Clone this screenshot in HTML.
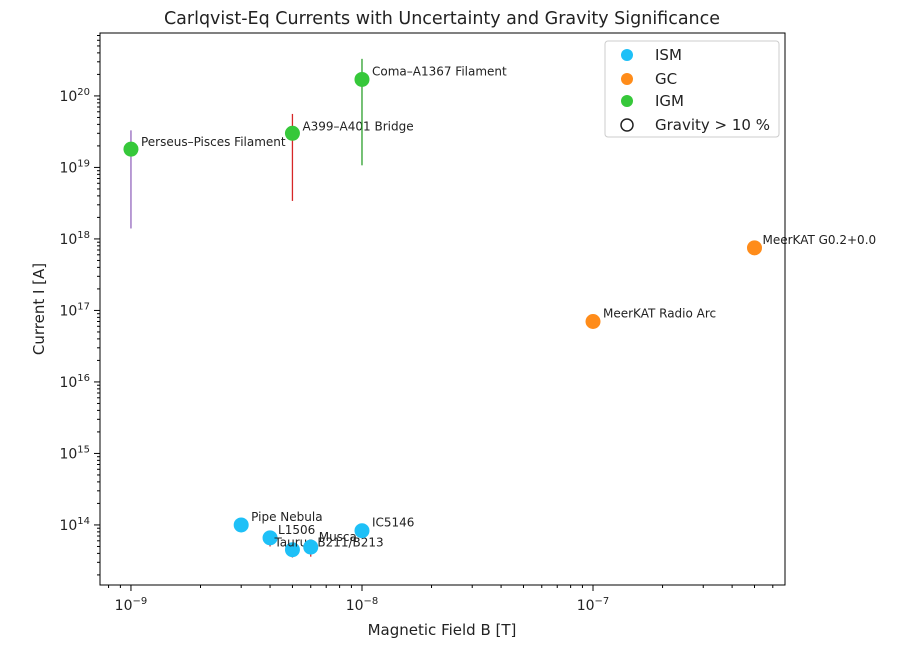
<!DOCTYPE html>
<html><head><meta charset="utf-8"><style>
body{margin:0;background:#fff;font-family:"Liberation Sans","DejaVu Sans",sans-serif}
svg text{font-family:"DejaVu Sans","Liberation Sans",sans-serif;fill:#222}
</style></head><body>
<svg id="chart" width="906" height="650" xmlns="http://www.w3.org/2000/svg">
<text x="442" y="24" text-anchor="middle" font-size="17.5">Carlqvist-Eq Currents with Uncertainty and Gravity Significance</text>
<g id="grid"></g>
<g id="marks"></g>
<rect x="100" y="33" width="685" height="552" fill="none" stroke="#000" stroke-width="1"/>
<text x="442" y="635" text-anchor="middle" font-size="15">Magnetic Field B [T]</text>
<text transform="translate(44,309) rotate(-90)" text-anchor="middle" font-size="15">Current I [A]</text>
<g>
<rect x="605" y="41" width="174" height="96" rx="3" fill="#fff" stroke="#ccc"/>
<circle cx="627" cy="55" r="6" fill="#1ec0f7"/>
<text x="655" y="60" font-size="15">ISM</text>
<circle cx="627" cy="79" r="6" fill="#ff8c1a"/>
<text x="655" y="84" font-size="15">GC</text>
<circle cx="627" cy="101" r="6" fill="#36c83a"/>
<text x="655" y="106" font-size="15">IGM</text>
<circle cx="627" cy="125" r="6" fill="none" stroke="#222" stroke-width="1.5"/>
<text x="655" y="130" font-size="15">Gravity &gt; 10 %</text>
</g>
</svg>
<script>
const names=["Perseus–Pisces Filament","A399–A401 Bridge","Coma–A1367 Filament","MeerKAT Radio Arc","MeerKAT G0.2+0.0","Pipe Nebula","L1506","Taurus B211/B213","Musca","IC5146"];
const groups=["IGM","IGM","IGM","GC","GC","ISM","ISM","ISM","ISM","ISM"];
const bField=[1e-9,5e-9,1e-8,1e-7,5e-7,3e-9,4e-9,5e-9,6e-9,1e-8];
const current=[1.8e19,3e19,1.7e20,7e16,7.5e17,1e14,6.6e13,4.5e13,4.9e13,8.3e13];
const errLow=[1.4e18,3.4e18,1.07e19,6e16,6e17,8e13,5e13,3.5e13,3.6e13,7e13];
const errHigh=[3.3e19,5.6e19,3.3e20,8e16,9e17,1.2e14,8e13,5.5e13,6e13,9.5e13];
const errColors=["#9467bd","#d62728","#2ca02c","#ff7f0e","#ff7f0e","#1f77b4","#d62728","#d62728","#d62728","#bcbd22"];
const labelDx=[10,10,10,10,8,10,8,-18,8,10];
const labelDy=[-3,-3,-4,-4,-4,-4,-4,-3,-6,-4];
const xTicks=[-9,-8,-7];
const yTicks=[14,15,16,17,18,19,20];
const colorOf={ISM:"#1ec0f7",GC:"#ff8c1a",IGM:"#36c83a"};
const X0=-9.134,X1=-6.169,Y0=13.16,Y1=20.88,L=100,R=785,T=33,B=585;
const sx=v=>L+(Math.log10(v)-X0)/(X1-X0)*(R-L);
const sy=v=>B-(Math.log10(v)-Y0)/(Y1-Y0)*(B-T);
const NS="http://www.w3.org/2000/svg";
const grid=document.getElementById('grid'),marks=document.getElementById('marks');
function mk(t,a,p){const e=document.createElementNS(NS,t);for(const k in a)e.setAttribute(k,a[k]);p.appendChild(e);return e;}
for(let d=-10;d<=-6;d++)for(let m=1;m<10;m++){const v=m*Math.pow(10,d);const x=sx(v);if(x<L||x>R)continue;
 const t=mk('line',{x1:x,x2:x,y1:B,y2:B+(m==1?6:3),stroke:'#000'},grid);
 
 }
xTicks.forEach(d=>{const x=sx(Math.pow(10,d));const t=mk('text',{x:x,y:B+25,'text-anchor':'middle','font-size':14},grid);
 
 
 t.innerHTML='10<tspan dy="-6" font-size="10">−'+(-d)+'</tspan>';});
for(let d=13;d<=21;d++)for(let m=1;m<10;m++){const v=m*Math.pow(10,d);const y=sy(v);if(y<T||y>B)continue;
 const t=mk('line',{x1:L,x2:L-(m==1?6:3),y1:y,y2:y,stroke:'#000'},grid);
 
 }
yTicks.forEach(d=>{const y=sy(Math.pow(10,d));const t=mk('text',{x:L-10,y:y+5,'text-anchor':'end','font-size':14},grid);
 
 
 t.innerHTML='10<tspan dy="-6" font-size="10">'+d+'</tspan>';});
names.forEach((n,i)=>{const x=sx(bField[i]),y=sy(current[i]);
 const el=mk('line',{x1:x,x2:x,y1:sy(errHigh[i]),y2:sy(errLow[i]),stroke:errColors[i],'stroke-width':1.3},marks);
 
 
 const c=mk('circle',{cx:x,cy:y,r:7.5,fill:colorOf[groups[i]]},marks);
 
 
 const t=mk('text',{x:x+labelDx[i],y:y+labelDy[i],'font-size':12},marks);
 
 
 t.textContent=n;});
</script>
</body></html>
